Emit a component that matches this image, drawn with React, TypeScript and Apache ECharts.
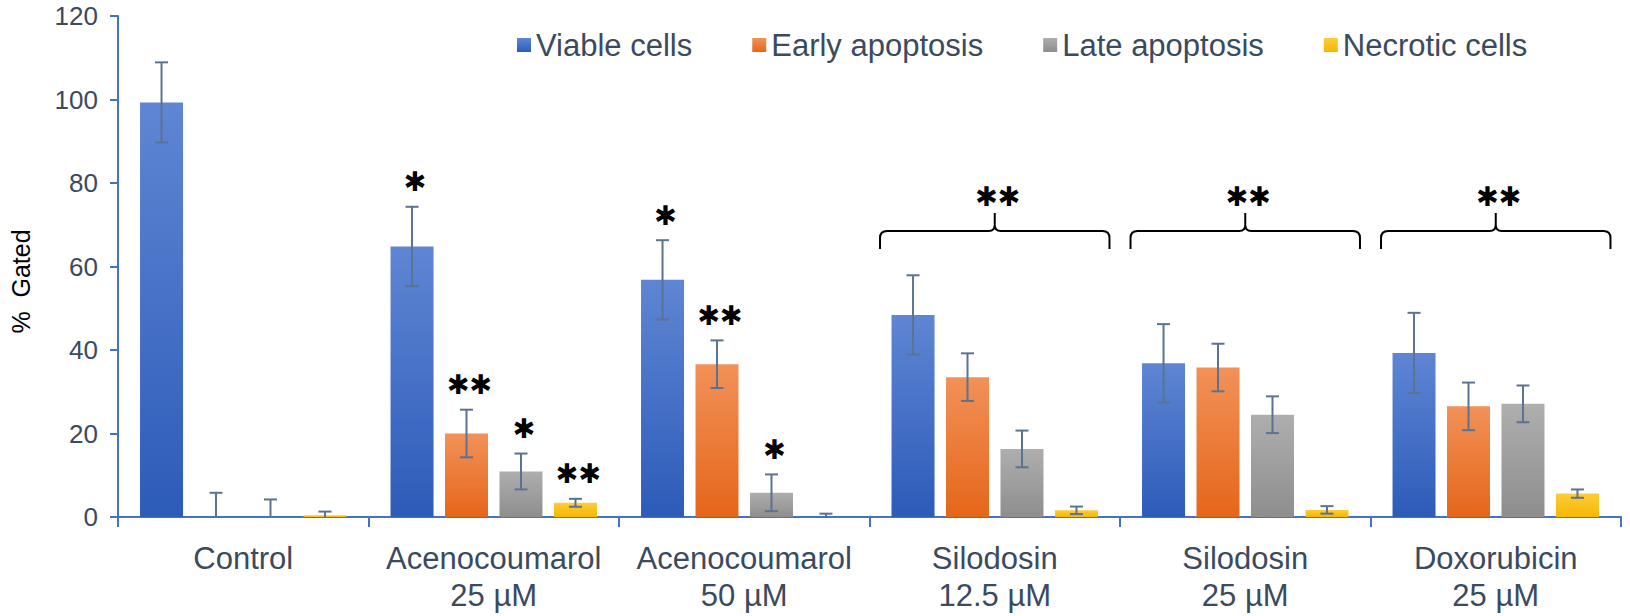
import React, { useEffect, useRef } from "react";
import * as echarts from "echarts";

const categories = [
  "Control",
  "Acenocoumarol\n25 µM",
  "Acenocoumarol\n50 µM",
  "Silodosin\n12.5 µM",
  "Silodosin\n25 µM",
  "Doxorubicin\n25 µM",
];
const seriesNames = ["Viable cells", "Early apoptosis", "Late apoptosis", "Necrotic cells"];

const viable = [99.3, 64.8, 56.8, 48.4, 36.8, 39.3];
const viableErr = [9.6, 9.5, 9.5, 9.5, 9.4, 9.6];
const earlyApoptosis = [0, 20.0, 36.6, 33.5, 35.8, 26.5];
const earlyErr = [5.8, 5.7, 5.7, 5.7, 5.7, 5.7];
const lateApoptosis = [0, 10.9, 5.8, 16.3, 24.5, 27.1];
const lateErr = [4.2, 4.3, 4.4, 4.4, 4.4, 4.4];
const necrotic = [0.4, 3.4, 0, 1.6, 1.7, 5.6];
const necroticErr = [0.9, 0.95, 0.8, 0.9, 0.9, 1.0];

const viableStars = ["", "✱", "✱", "", "", ""];
const earlyStars = ["", "✱✱", "✱✱", "", "", ""];
const lateStars = ["", "✱", "✱", "", "", ""];
const necroticStars = ["", "✱✱", "", "", "", ""];

const bracketCategories = [3, 4, 5];
const bracketStars = ["✱✱", "✱✱", "✱✱"];
const bracketValue = 68.5;

const yMin = 0;
const yMax = 120;
const yInterval = 20;

const FONT = "'Liberation Sans', Arial, sans-serif";
const STAR_FONT = "'DejaVu Sans', sans-serif";
const TEXT = "#3A4A5F";
const AXIS = "#4472C4";
const ERR = "#5B7393";
const BAR_W = 43;
const BAR_GAP = 0.267;
const STEP = BAR_W * (1 + BAR_GAP);
const STAR_FS = 27;
const STAR_DY = 0;

const grad = (top: string, bottom: string) =>
  new echarts.graphic.LinearGradient(0, 0, 0, 1, [
    { offset: 0, color: top },
    { offset: 1, color: bottom },
  ]);

const colors = [
  grad("#5F86D4", "#2C5BB8"),
  grad("#F29158", "#E5661A"),
  grad("#AEAEAE", "#8E8E8E"),
  grad("#FFCC3A", "#F4B700"),
];

const means = [viable, earlyApoptosis, lateApoptosis, necrotic];
const errs = [viableErr, earlyErr, lateErr, necroticErr];
const stars = [viableStars, earlyStars, lateStars, necroticStars];

const starText = (text: string, x: number, y: number) => ({
  type: "text",
  x,
  y: y + STAR_DY,
  style: {
    text,
    fill: "#000",
    fontSize: STAR_FS,
    fontFamily: STAR_FONT,
    align: "center",
    verticalAlign: "middle",
  },
});

function errorSeries(idx: number) {
  const m = means[idx];
  const e = errs[idx];
  const s = stars[idx];
  return {
    type: "custom",
    silent: true,
    z: 10,
    data: m.map((v, i) => [i, v, e[i]]),
    encode: { x: 0, y: 1 },
    renderItem: (params: any, api: any) => {
      const cat = api.value(0);
      const mean = api.value(1);
      const err = api.value(2);
      const off = (idx - 1.5) * STEP;
      const top = api.coord([cat, mean + err]);
      const lowV = Math.max(0, mean - err);
      const bot = api.coord([cat, lowV]);
      const x = top[0] + off;
      const cap = 6.5;
      const lineStyle = { stroke: ERR, lineWidth: 2 };
      const children: any[] = [
        { type: "line", shape: { x1: x, y1: top[1], x2: x, y2: bot[1] }, style: lineStyle },
        { type: "line", shape: { x1: x - cap, y1: top[1], x2: x + cap, y2: top[1] }, style: lineStyle },
      ];
      if (mean - err > 0) {
        children.push({ type: "line", shape: { x1: x - cap, y1: bot[1], x2: x + cap, y2: bot[1] }, style: lineStyle });
      }
      const st = s[params.dataIndex];
      if (st) children.push(starText(st, x + 3, top[1] - 25));
      return { type: "group", children };
    },
  };
}

const bracketSeries = {
  type: "custom",
  silent: true,
  z: 10,
  data: bracketCategories.map((c) => [c, bracketValue]),
  encode: { x: 0, y: 1 },
  renderItem: (params: any, api: any) => {
    const p = api.coord([api.value(0), api.value(1)]);
    const bw = api.size([1, 0])[0];
    const half = bw * 0.458;
    const L = p[0] - half;
    const R = p[0] + half;
    const y = p[1];
    const cx = p[0];
    const drop = 18;
    const rise = 18;
    const r = 7;
    const rc = 6;
    const d =
      `M${L},${y + drop} L${L},${y + r} Q${L},${y} ${L + r},${y} L${cx - rc},${y} Q${cx},${y} ${cx},${y - rc} L${cx},${y - rise} ` +
      `M${cx},${y - rc} Q${cx},${y} ${cx + rc},${y} L${R - r},${y} Q${R},${y} ${R},${y + r} L${R},${y + drop}`;
    return {
      type: "group",
      children: [
        {
          type: "path",
          shape: { pathData: d },
          style: { stroke: "#000", lineWidth: 2, fill: "none" },
        },
        starText(bracketStars[params.dataIndex], cx + 3, y - rise - 17),
      ],
    };
  },
};

export default function App() {
  const ref = useRef<HTMLDivElement>(null);
  useEffect(() => {
    if (!ref.current) return;
    const chart = echarts.init(ref.current, undefined, { renderer: "svg" });
    const barSeries = seriesNames.map((name, i) => ({
      name,
      type: "bar",
      data: means[i],
      barWidth: BAR_W,
      barGap: `${BAR_GAP * 100}%`,
      itemStyle: { color: colors[i] },
    }));
    chart.setOption({
      animation: false,
      textStyle: { fontFamily: FONT },
      grid: { left: 115, right: 9, top: 16, bottom: 99, containLabel: false },
      legend: {
        data: seriesNames,
        icon: "rect",
        itemWidth: 14,
        itemHeight: 14,
        itemGap: 60,
        left: 512,
        top: 23,
        textStyle: { fontSize: 31, color: TEXT, fontFamily: FONT, lineHeight: 34 },
      },
      xAxis: {
        type: "category",
        data: categories,
        axisLine: { lineStyle: { color: AXIS, width: 2 } },
        axisTick: { show: true, length: 10, lineStyle: { color: AXIS, width: 2 } },
        axisLabel: { interval: 0, fontSize: 31, lineHeight: 37, color: TEXT, margin: 23, fontFamily: FONT },
      },
      yAxis: {
        type: "value",
        min: yMin,
        max: yMax,
        interval: yInterval,
        name: "%  Gated",
        nameLocation: "middle",
        nameGap: 85,
        nameTextStyle: { fontSize: 25, color: "#000", fontFamily: FONT, padding: [0, 30, 0, 0] },
        axisLine: { show: true, lineStyle: { color: AXIS, width: 2 } },
        axisTick: { show: true, length: 8, lineStyle: { color: AXIS, width: 2 } },
        axisLabel: { fontSize: 26, color: TEXT, margin: 20, fontFamily: FONT },
        splitLine: { show: false },
      },
      series: [...barSeries, ...seriesNames.map((_, i) => errorSeries(i)), bracketSeries],
    });
    return () => chart.dispose();
  }, []);
  return (
    <div
      ref={ref}
      style={{ position: "fixed", left: 0, top: 0, width: 1630, height: 616, background: "#fff" }}
    />
  );
}
